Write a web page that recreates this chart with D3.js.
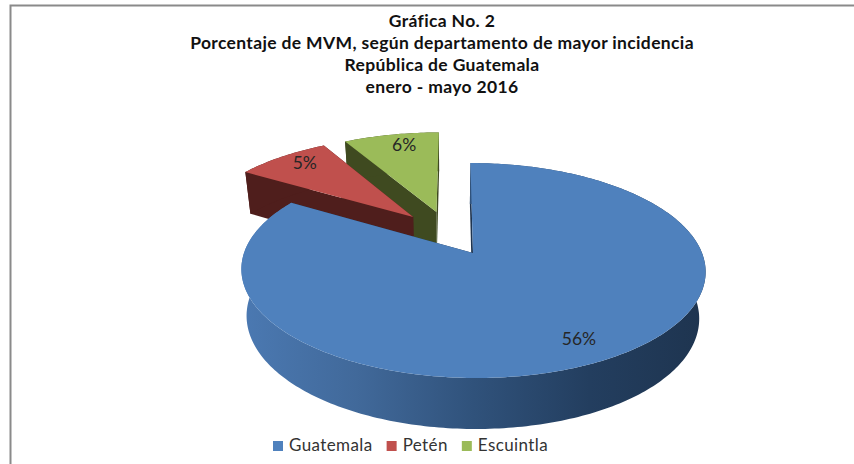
<!DOCTYPE html>
<html>
<head>
<meta charset="utf-8">
<script src="https://cdnjs.cloudflare.com/ajax/libs/d3/7.8.5/d3.min.js"></script>
<style>
html,body{margin:0;padding:0;background:#fff;}
svg{display:block;}
text{font-family:Lato,"Open Sans",sans-serif;}
</style>
</head>
<body>
<svg width="854" height="464"></svg>
<script>
var titleLines = ['Gráfica No. 2', 'Porcentaje de MVM, según departamento de mayor incidencia', 'República de Guatemala', 'enero - mayo 2016'];
var categories = ['Guatemala', 'Petén', 'Escuintla'];
var values = [56, 5.4, 5.5];
var colors = ['#4f81bd', '#c0504d', '#9bbb59'];
var sideColors = ['#1f3550', '#4f1e1c', '#3f4a20'];

var svg = d3.select('svg');

// chart frame, runs off the right and bottom of the crop
svg.append('path')
    .attr('d', 'M10.5,464V5.5H854')
    .attr('fill', 'none')
    .attr('stroke', '#8a8a8a')
    .attr('stroke-width', 2);

// excel style 3d pie: unit disc -> screen, perspective on the v axis
var x0 = 473, y0 = 253, scaleU = 229, scaleV = 104.6, persp = 0.163, shear = 3;
var explode = [[0, 0], [-0.272, -0.365], [-0.165, -0.419]];
var labelShift = [[-5, 4], [5, 4], [7, 6]];

function project(u, v, base) {
    var w = 1 - persp * v;
    var x = x0 + scaleU * u / w + shear * v / w;
    var y = y0 + scaleV * v / w;
    if (base) {
        x = x0 + (x - x0) * 0.975 - 0.6;
        y = y + 46 + 5 * v;
    }
    return [x, y];
}

var pie = d3.pie().sort(null).value(function(d){ return d; });
var arcs = pie(values);
var line = d3.line();

function rim(d, i, r, a, base) {
    return project(r * Math.sin(a) + explode[i][0], -r * Math.cos(a) + explode[i][1], base);
}

var defs = svg.append('defs');
var grad = defs.append('linearGradient').attr('id', 'wall')
    .attr('gradientUnits', 'userSpaceOnUse')
    .attr('x1', 241).attr('x2', 706).attr('y1', 0).attr('y2', 0);
[[0, '#4b79b2'], [0.25, '#41699a'], [0.5, '#30527b'], [0.75, '#233e5f'], [1, '#1e344f']].forEach(function(s){
    grad.append('stop').attr('offset', s[0]).attr('stop-color', s[1]);
});

// back to front so the big slice covers the two pulled out ones
d3.range(arcs.length - 1, -1, -1).forEach(function(i){
    var d = arcs[i];
    var steps = d3.range(d.startAngle, d.endAngle, Math.PI / 180).concat([d.endAngle]);
    var g = svg.append('g');
    var top = steps.map(function(a){ return rim(d, i, 1, a, false); });
    var bottom = steps.map(function(a){ return rim(d, i, 1, a, true); });
    var fillSide = i === 0 ? 'url(#wall)' : sideColors[i];

    // cut faces
    [d.startAngle, d.endAngle].forEach(function(a){
        g.append('path')
            .attr('d', line([rim(d, i, 1, a, false), rim(d, i, 0, a, false), rim(d, i, 0, a, true), rim(d, i, 1, a, true)]) + 'Z')
            .attr('fill', sideColors[i]);
    });
    // outer wall
    g.append('path')
        .attr('d', line(top.concat(bottom.slice().reverse())) + 'Z')
        .attr('fill', fillSide);
    // top face
    g.append('path')
        .attr('d', line([rim(d, i, 0, 0, false)].concat(top)) + 'Z')
        .attr('fill', colors[i]);
});

// data labels
arcs.forEach(function(d, i){
    var a = (d.startAngle + d.endAngle) / 2;
    var p = rim(d, i, 0.85, a, false);
    svg.append('text')
        .attr('x', p[0] + labelShift[i][0])
        .attr('y', p[1] + labelShift[i][1])
        .attr('text-anchor', 'middle')
        .attr('font-size', 17.5)
        .attr('fill', '#262626')
        .text(d3.format('.0f')(d.value) + '%');
});

// title
var titleY = d3.scaleLinear().domain([0, 3]).range([27, 93]);
svg.selectAll('.title')
    .data(titleLines)
    .enter()
    .append('text')
    .attr('class', 'title')
    .attr('x', 442)
    .attr('y', function(d, i){ return titleY(i); })
    .attr('text-anchor', 'middle')
    .attr('font-size', 17.5)
    .attr('font-weight', 700)
    .attr('letter-spacing', 0.35)
    .attr('fill', '#111')
    .text(function(d){ return d; });

// legend
var lx = 273;
categories.forEach(function(c, i){
    svg.append('rect').attr('x', lx).attr('y', 441).attr('width', 10).attr('height', 10).attr('fill', colors[i]);
    var t = svg.append('text')
        .attr('x', lx + 16)
        .attr('y', 451)
        .attr('font-size', 17)
        .attr('letter-spacing', 0.4)
        .attr('fill', '#333')
        .text(c);
    lx += 16 + t.node().getComputedTextLength() + 14;
});
</script>
</body>
</html>
